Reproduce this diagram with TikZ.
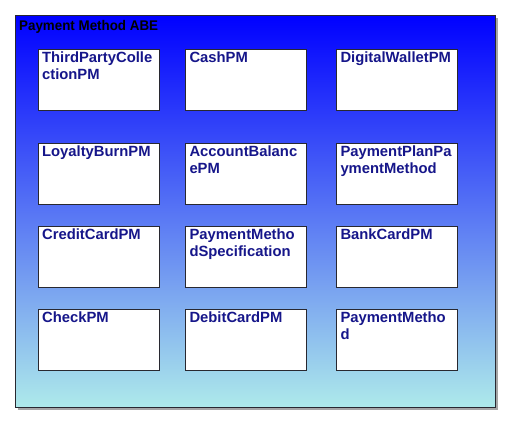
\documentclass[tikz,border=0pt]{standalone}
\usepackage{fontspec}
\setmainfont{Liberation Sans}
\definecolor{pmtext}{RGB}{22,22,138}
\definecolor{pmborder}{RGB}{40,40,48}
\definecolor{pmtop}{RGB}{0,0,255}
\definecolor{pmmid}{RGB}{118,156,238}
\definecolor{pmbot}{RGB}{174,234,234}
\tikzset{
  pmbox/.style={draw=pmborder, line width=0.9pt, fill=white},
  pmlabel/.style={anchor=north west, inner sep=0pt, align=left, text=pmtext,
    font=\fontsize{14.8}{16.7}\selectfont\bfseries},
}
\begin{document}
\begin{tikzpicture}[x=1pt,y=-1pt]
\useasboundingbox (0,0) rectangle (511,423);
% shadow
\fill[gray!70] (17.5,17.5) rectangle (497.5,410);
% package
\shade[top color=pmtop, middle color=pmmid, bottom color=pmbot] (15,15) rectangle (495.5,407.5);
\draw[pmborder, line width=0.9pt] (15,15) rectangle (495.5,407.5);
\node[anchor=base west, inner sep=0pt, font=\fontsize{14}{16}\selectfont\bfseries] (title) at (19,30.7) {\scalebox{0.955}[1]{Payment Method ABE}};
% boxes
\foreach \nm/\x/\y/\txt in {
  a/38.3/49.3/{ThirdPartyColle\\ctionPM},
  b/185.7/49.3/{CashPM},
  c/336.7/49.3/{DigitalWalletPM},
  d/38.3/143.3/{LoyaltyBurnPM},
  e/185.7/143.3/{AccountBalanc\\ePM},
  f/336.7/143.3/{PaymentPlanPa\\ymentMethod},
  g/38.3/226.7/{CreditCardPM},
  h/185.7/226.7/{PaymentMetho\\dSpecification},
  i/336.7/226.7/{BankCardPM},
  j/38.3/309.3/{CheckPM},
  k/185.7/309.3/{DebitCardPM},
  l/336.7/309.3/{PaymentMetho\\d}}{
  \draw[pmbox] (\x,\y) rectangle ++(121,60.7);
  \node[pmlabel] (\nm) at (\x+3.6,\y+2.2) {\txt};
}
\end{tikzpicture}
\end{document}
